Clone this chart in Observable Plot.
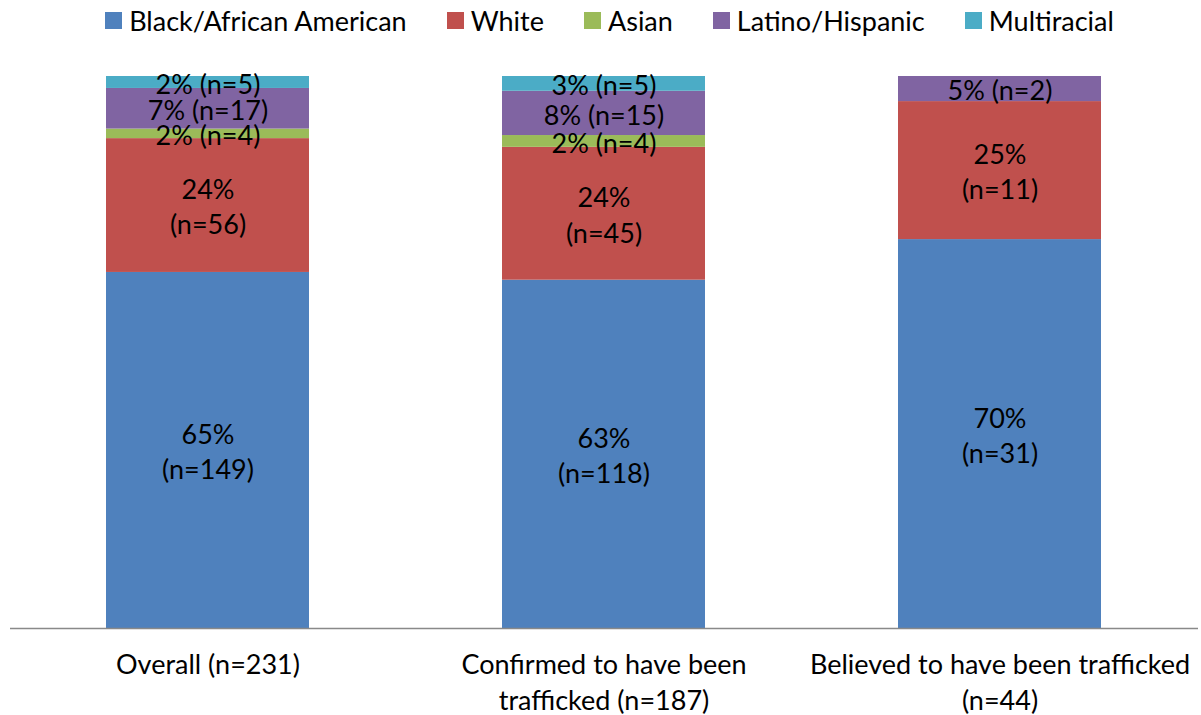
<!DOCTYPE html>
<html><head><meta charset="utf-8">
<script src="https://cdn.jsdelivr.net/npm/d3@7"></script>
<script src="https://cdn.jsdelivr.net/npm/@observablehq/plot@0.6"></script>
<style>
body{margin:0;background:#fff;font-family:Lato, sans-serif;}
#legend{height:44px;display:flex;justify-content:center;align-items:center;gap:40px;font-size:27px;color:#000;padding-left:18px;padding-bottom:4px;box-sizing:border-box;width:1201px;}
.item{display:flex;align-items:center;}
.sw{width:17px;height:17px;margin-right:7px;display:inline-block;}
</style></head><body>
<div id="legend"></div>
<div id="chart"></div>
<script>
const groups = ["Overall (n=231)", "Confirmed to have been trafficked (n=187)", "Believed to have been trafficked (n=44)"];
const groupLabels = ["Overall (n=231)", "Confirmed to have been\ntrafficked (n=187)", "Believed to have been trafficked\n(n=44)"];
const races = ["Black/African American", "White", "Asian", "Latino/Hispanic", "Multiracial"];
const colors = ["#4F81BD", "#C0504D", "#9BBB59", "#8064A2", "#4BACC6"];
const blackCounts = [149, 118, 31];
const whiteCounts = [56, 45, 11];
const asianCounts = [4, 4, 0];
const latinoCounts = [17, 15, 2];
const multiCounts = [5, 5, 0];
const blackLabels = ["65%\n(n=149)", "63%\n(n=118)", "70%\n(n=31)"];
const whiteLabels = ["24%\n(n=56)", "24%\n(n=45)", "25%\n(n=11)"];
const asianLabels = ["2% (n=4)", "2% (n=4)", ""];
const latinoLabels = ["7% (n=17)", "8% (n=15)", "5% (n=2)"];
const multiLabels = ["2% (n=5)", "3% (n=5)", ""];

const countsByRace = [blackCounts, whiteCounts, asianCounts, latinoCounts, multiCounts];
const labelsByRace = [blackLabels, whiteLabels, asianLabels, latinoLabels, multiLabels];
const rows = [];
races.forEach((r, i) => groups.forEach((g, j) => {
  rows.push({group: g, race: r, count: countsByRace[i][j], label: labelsByRace[i][j]});
}));

const legend = document.getElementById("legend");
races.forEach((r, i) => {
  const it = document.createElement("div");
  it.className = "item";
  it.innerHTML = `<span class="sw" style="background:${colors[i]}"></span><span>${r}</span>`;
  legend.appendChild(it);
});

const FS = 27;
const chart = Plot.plot({
  width: 1201,
  height: 671,
  marginTop: 32,
  marginBottom: 87,
  marginLeft: 10,
  marginRight: 3,
  style: {fontFamily: "Lato, sans-serif", fontSize: FS + "px", color: "#000"},
  x: {domain: groups, paddingInner: 0.487, paddingOuter: 0.2435, axis: null},
  y: {axis: null, domain: [0, 1]},
  color: {domain: races, range: colors},
  marks: [
    Plot.barY(rows, Plot.stackY({x: "group", y: "count", fill: "race", offset: "normalize"})),
    Plot.text(rows.filter(d => d.label), Plot.stackY({
      x: "group", y: "count", z: "race", text: "label", offset: "normalize",
      fontSize: FS, lineHeight: 1.3, fill: "#000"
    })),
    Plot.ruleY([0], {stroke: "#898989", strokeWidth: 1.5}),
    Plot.axisX({
      tickSize: 0, tickPadding: 21, fontSize: FS, lineHeight: 1.3, label: null,
      tickFormat: d => groupLabels[groups.indexOf(d)], fill: "#000"
    })
  ]
});
document.getElementById("chart").appendChild(chart);
</script>
</body></html>
